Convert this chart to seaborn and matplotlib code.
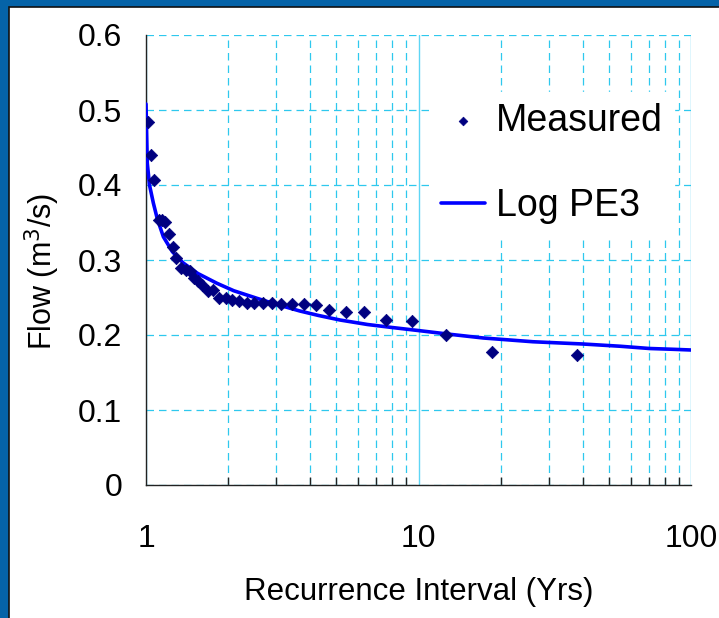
import numpy as np
import pandas as pd
import matplotlib
matplotlib.use("Agg")
import matplotlib.pyplot as plt
import matplotlib.ticker as mticker
from matplotlib.patches import Rectangle
import seaborn as sns

# 实测数据（重现期, 流量）
measured_T = [1.017, 1.043, 1.07, 1.115, 1.14, 1.17, 1.21, 1.256, 1.29, 1.345,
              1.40, 1.445, 1.50, 1.55, 1.61, 1.69, 1.76, 1.86, 1.96, 2.07,
              2.20, 2.34, 2.50, 2.68, 2.89, 3.13, 3.43, 3.79, 4.21, 4.69,
              5.42, 6.30, 7.60, 9.50, 12.6, 18.6, 38.1]
measured_Q = [0.484, 0.440, 0.407, 0.353, 0.353, 0.351, 0.335, 0.317, 0.303, 0.289,
              0.287, 0.285, 0.276, 0.272, 0.267, 0.259, 0.260, 0.250, 0.250, 0.247,
              0.246, 0.243, 0.243, 0.243, 0.243, 0.241, 0.241, 0.241, 0.240, 0.233,
              0.231, 0.231, 0.220, 0.219, 0.200, 0.178, 0.173]

# Log PE3 拟合曲线
fit_T = [1.0, 1.011, 1.03, 1.064, 1.10, 1.158, 1.25, 1.37, 1.55, 1.82,
         2.1, 2.55, 3.0, 3.67, 4.3, 5.15, 6.5, 8.0, 9.96, 13.0,
         17.3, 26.3, 40.1, 55.0, 70.4, 85.0, 100.0]
fit_Q = [0.508, 0.429, 0.400, 0.376, 0.355, 0.331, 0.311, 0.296, 0.282, 0.269,
         0.259, 0.249, 0.241, 0.232, 0.226, 0.220, 0.214, 0.210, 0.206, 0.201,
         0.196, 0.191, 0.188, 0.185, 0.182, 0.181, 0.180]

df_meas = pd.DataFrame({"T": measured_T, "Q": measured_Q})
df_fit = pd.DataFrame({"T": fit_T, "Q": fit_Q})

sns.set_style("white")
plt.rcParams['font.family'] = ['Liberation Sans', 'DejaVu Sans']
plt.rcParams['text.color'] = 'black'
plt.rcParams['axes.labelcolor'] = 'black'
plt.rcParams['xtick.color'] = 'black'
plt.rcParams['ytick.color'] = 'black'

fig = plt.figure(figsize=(7.19, 6.18), dpi=100)
fig.patch.set_facecolor('#0563a8')
# 白色幻灯片底板
fig.patches.append(Rectangle((9 / 719, -0.01), 1, 1.01 - 7 / 618, transform=fig.transFigure,
                             facecolor='white', edgecolor='#111111', lw=1.2, zorder=-10))

ax = fig.add_axes([146 / 719, 1 - 485 / 618, 545 / 719, 450 / 618])
ax.set_facecolor('none')

grid_c = '#2ec8ee'
sns.lineplot(data=df_fit, x="T", y="Q", ax=ax, color='#0000ff', lw=2.6,
             label='Log PE3', zorder=3, sort=False)
sns.scatterplot(data=df_meas, x="T", y="Q", ax=ax, marker='D', s=40,
                color='#000080', edgecolor='#000080', linewidth=0.5,
                label='Measured', zorder=4)

ax.set_xscale('log')
ax.set_xlim(1, 100)
ax.set_ylim(0, 0.6)
ax.set_yticks(np.arange(0, 0.61, 0.1))
ax.yaxis.set_major_formatter(mticker.FuncFormatter(lambda v, p: '0' if v == 0 else f'{v:.1f}'))
ax.xaxis.set_major_formatter(mticker.FuncFormatter(lambda v, p: f'{v:g}'))
ax.xaxis.set_minor_locator(mticker.LogLocator(base=10, subs=np.arange(2, 10), numticks=10))
ax.xaxis.set_minor_formatter(mticker.NullFormatter())

ax.grid(which='major', axis='x', color='#5ed6f5', ls='-', lw=1.0)
ax.grid(which='minor', axis='x', color=grid_c, ls=(0, (6, 4)), lw=0.9)
ax.grid(which='major', axis='y', color=grid_c, ls=(0, (6, 4)), lw=0.9)
ax.set_axisbelow(True)

for s in ['top', 'right']:
    ax.spines[s].set_visible(False)
for s in ['left', 'bottom']:
    ax.spines[s].set_color('#222222')
    ax.spines[s].set_linewidth(1.0)

ax.tick_params(axis='y', which='major', direction='out', length=8, width=1,
               pad=9, labelsize=23, color='#222222')
ax.tick_params(axis='x', which='major', direction='inout', length=12, width=1,
               pad=22, labelsize=23, color='#222222')
ax.tick_params(axis='x', which='minor', direction='in', length=6, width=1,
               color='#222222', bottom=True)

ax.set_xlabel('Recurrence Interval (Yrs)', fontsize=22.5)
ax.set_ylabel('Flow (m$^3$/s)', fontsize=22)
ax.xaxis.set_label_coords(0.5, -0.205)
ax.yaxis.set_label_coords(-0.155, 0.475)

handles, labels = ax.get_legend_handles_labels()
order = [labels.index('Measured'), labels.index('Log PE3')]
leg = ax.legend([handles[i] for i in order], [labels[i] for i in order],
                loc='upper left', bbox_to_anchor=(0.487, 0.915), fontsize=27,
                frameon=True, facecolor='white', edgecolor='white', framealpha=1,
                fancybox=False, labelspacing=1.3, handlelength=1.15,
                handletextpad=0.3, borderpad=0.3, markerscale=0.7)

fig.savefig('out.png', dpi=100, facecolor=fig.get_facecolor())
